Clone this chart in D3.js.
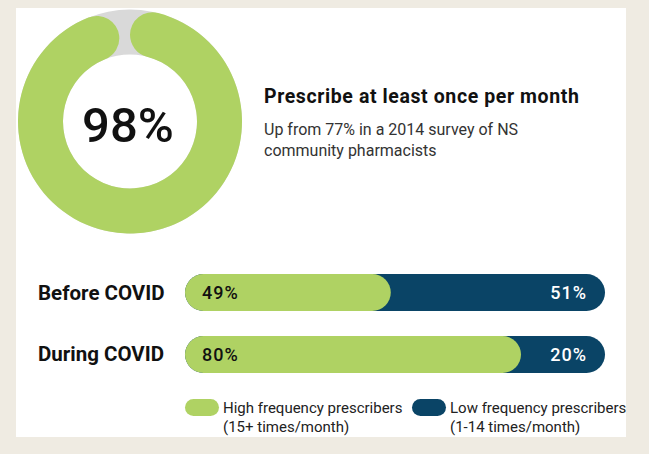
<!DOCTYPE html>
<html>
<head>
<meta charset="utf-8">
<script src="https://cdn.jsdelivr.net/npm/d3@7"></script>
<style>
  html, body { margin: 0; padding: 0; background: #efebe2; }
  svg { display: block; font-family: Roboto, "Noto Sans", sans-serif; }
</style>
</head>
<body>
<div id="chart"></div>
<script>
// data
const donutValue = 98
const donutTitle = "Prescribe at least once per month"
const donutNote = ["Up from 77% in a 2014 survey of NS", "community pharmacists"]
const groups = ["Before COVID", "During COVID"]
const highFreq = [49, 80]
const lowFreq = [51, 20]
const legendTitles = ["High frequency prescribers", "Low frequency prescribers"]
const legendNotes = ["(15+ times/month)", "(1-14 times/month)"]

const width = 649
const height = 454
const green = '#afd263'
const blue = '#0a4466'
const grey = '#d9d9d9'

const svg = d3.select('#chart').append('svg')
    .attr('width', width)
    .attr('height', height)
    .attr('viewBox', `0 0 ${width} ${height}`)

// white card
svg.append('rect')
    .attr('x', 16).attr('y', 8)
    .attr('width', 610).attr('height', 429)
    .attr('fill', '#fff')

// donut
const cx = 130, cy = 121.5
const outerR = 112, innerR = 67
const angle = d3.scaleLinear().domain([0, 100]).range([0, 2 * Math.PI])
const ring = d3.arc().innerRadius(innerR).outerRadius(outerR)
const g = svg.append('g').attr('transform', `translate(${cx},${cy})`)
g.append('path')
    .attr('fill', grey)
    .attr('d', ring({startAngle: 0, endAngle: angle(100)}))
g.append('path')
    .attr('fill', green)
    .attr('d', ring.cornerRadius((outerR - innerR) / 2)({startAngle: angle(0), endAngle: angle(donutValue)}))
g.append('text')
    .attr('text-anchor', 'middle')
    .attr('x', -2)
    .attr('y', 20)
    .attr('font-size', 49)
    .attr('font-weight', 500)
    .attr('fill', '#111')
    .text(donutValue + '%')

svg.append('text')
    .attr('x', 264).attr('y', 103)
    .attr('font-size', 19.5)
    .attr('font-weight', 700)
    .attr('letter-spacing', 0.6)
    .attr('fill', '#111')
    .text(donutTitle)
svg.append('g').selectAll('text')
    .data(donutNote)
    .join('text')
    .attr('x', 264)
    .attr('y', (d, i) => 135 + i * 21)
    .attr('font-size', 16)
    .attr('fill', '#333')
    .text(d => d)

// stacked bars
const x = d3.scaleLinear().domain([0, 100]).range([185, 605])
const y = d3.scaleBand().domain(groups).range([274, 373]).paddingInner(0.403)
const r = y.bandwidth() / 2

const rows = svg.append('g').selectAll('g')
    .data(groups)
    .join('g')
    .attr('transform', d => `translate(0,${y(d)})`)

rows.append('text')
    .attr('x', 38)
    .attr('y', r + 7)
    .attr('font-size', 20.5)
    .attr('font-weight', 700)
    .attr('fill', '#111')
    .text(d => d)

rows.append('rect')
    .attr('x', x(0))
    .attr('width', (d, i) => x(highFreq[i] + lowFreq[i]) - x(0))
    .attr('height', y.bandwidth())
    .attr('rx', r)
    .attr('fill', blue)

rows.append('rect')
    .attr('x', x(0))
    .attr('width', (d, i) => x(highFreq[i]) - x(0))
    .attr('height', y.bandwidth())
    .attr('rx', r)
    .attr('fill', green)

rows.append('text')
    .attr('x', x(0) + 17)
    .attr('y', r + 6.5)
    .attr('font-size', 18)
    .attr('font-weight', 500)
    .attr('letter-spacing', 1)
    .attr('fill', '#111')
    .text((d, i) => highFreq[i] + '%')

rows.append('text')
    .attr('x', x(100) - 18)
    .attr('y', r + 6.5)
    .attr('text-anchor', 'end')
    .attr('font-size', 18)
    .attr('font-weight', 500)
    .attr('letter-spacing', 1)
    .attr('fill', '#fff')
    .text((d, i) => lowFreq[i] + '%')

// legend
const legendX = [185, 412]
const legend = svg.append('g').selectAll('g')
    .data(legendTitles)
    .join('g')
    .attr('transform', (d, i) => `translate(${legendX[i]},399)`)
legend.append('rect')
    .attr('width', 34).attr('height', 17)
    .attr('rx', 8.5)
    .attr('fill', (d, i) => i === 0 ? green : blue)
legend.append('text')
    .attr('x', 38).attr('y', 14)
    .attr('font-size', 15)
    .attr('fill', '#222')
    .text(d => d)
legend.append('text')
    .attr('x', 38).attr('y', 33)
    .attr('font-size', 15)
    .attr('fill', '#222')
    .text((d, i) => legendNotes[i])
</script>
</body>
</html>
